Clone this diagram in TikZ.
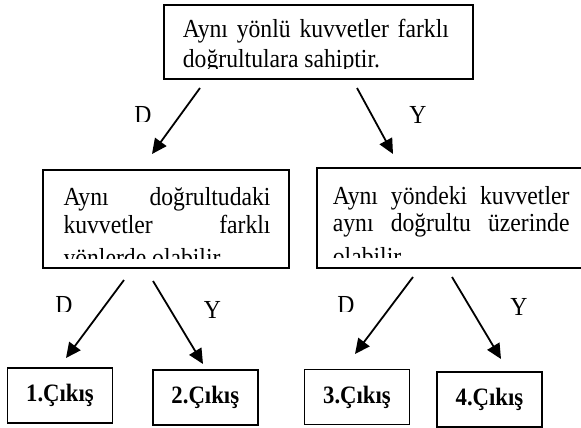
\documentclass[tikz,border=0pt]{standalone}
\usepackage{fontspec}
\setmainfont{Liberation Serif}[FakeStretch=0.91]
\usetikzlibrary{arrows.meta}
\begin{document}
\begin{tikzpicture}[x=1pt,y=-1pt,
  box/.style={draw,line width=1.6pt,inner sep=0pt},
  arr/.style={line width=1.8pt,-{Triangle[length=15pt,width=14pt]}},
  txt/.style={inner sep=0pt,anchor=base west,font=\fontsize{26}{30}\selectfont},
  lbl/.style={inner sep=0pt,anchor=base,font=\fontsize{26}{30}\selectfont},
  outbox/.style={box,minimum width=105pt,minimum height=55pt,font=\bfseries\fontsize{25}{28}\selectfont}]
\useasboundingbox (0,0) rectangle (581,428);

% boxes
\node[box,minimum width=309pt,minimum height=74pt] (top) at (318.5,42) {};
\node[box,minimum width=246pt,minimum height=98pt] (left) at (166,219) {};
\node[box,minimum width=280pt,minimum height=100pt] (right) at (457,218) {};
\node[outbox] (o1) at (60,395.5) {1.Çıkış};
\node[outbox] (o2) at (205.3,397.5) {2.Çıkış};
\node[outbox] (o3) at (357,397) {3.Çıkış};
\node[outbox] (o4) at (489.5,399.5) {4.Çıkış};

% box texts
\node[txt] (t1) at (182.7,38) {\makebox[266pt][s]{Aynı yönlü kuvvetler farklı}};
\begin{scope}
  \clip (170,45) rectangle (470,69);
  \node[txt] (t2) at (182.7,67) {doğrultulara sahiptir.};
\end{scope}

\node[txt] (l1) at (63.3,205) {\makebox[207pt][s]{Aynı doğrultudaki}};
\node[txt] (l2) at (63.3,233) {\makebox[207pt][s]{kuvvetler farklı}};
\begin{scope}
  \clip (50,240) rectangle (285,258);
  \node[txt] (l3) at (63.3,266) {yönlerde olabilir.};
\end{scope}

\node[txt] (r1) at (332.7,204.3) {\makebox[236.6pt][s]{Aynı yöndeki kuvvetler}};
\node[txt] (r2) at (332.7,231.7) {\makebox[236.6pt][s]{aynı doğrultu üzerinde}};
\begin{scope}
  \clip (320,240) rectangle (578,257);
  \node[txt] (r3) at (332.7,265) {olabilir.};
\end{scope}

% arrow end points
\coordinate (a1s) at (200,88);   \coordinate (a1e) at (152,154);
\coordinate (a2s) at (357,88);   \coordinate (a2e) at (393,154);
\coordinate (a3s) at (124,280);  \coordinate (a3e) at (66,358);
\coordinate (a4s) at (153,281);  \coordinate (a4e) at (203,364);
\coordinate (a5s) at (413,277);  \coordinate (a5e) at (355,354);
\coordinate (a6s) at (452,277);  \coordinate (a6e) at (501,359);
\draw[arr] (a1s) -- (a1e);
\draw[arr] (a2s) -- (a2e);
\draw[arr] (a3s) -- (a3e);
\draw[arr] (a4s) -- (a4e);
\draw[arr] (a5s) -- (a5e);
\draw[arr] (a6s) -- (a6e);

% labels
\begin{scope}
  \clip (120,95) rectangle (170,121);
  \node[lbl] (d1) at (143,123) {D};
\end{scope}
\node[lbl] (y1) at (418,123) {Y};
\begin{scope}
  \clip (40,285) rectangle (90,311);
  \node[lbl] (d2) at (64,313) {D};
\end{scope}
\node[lbl] (y2) at (212.5,318) {Y};
\begin{scope}
  \clip (320,285) rectangle (370,311);
  \node[lbl] (d3) at (346,313) {D};
\end{scope}
\node[lbl] (y3) at (519,315) {Y};
\end{tikzpicture}
\end{document}
